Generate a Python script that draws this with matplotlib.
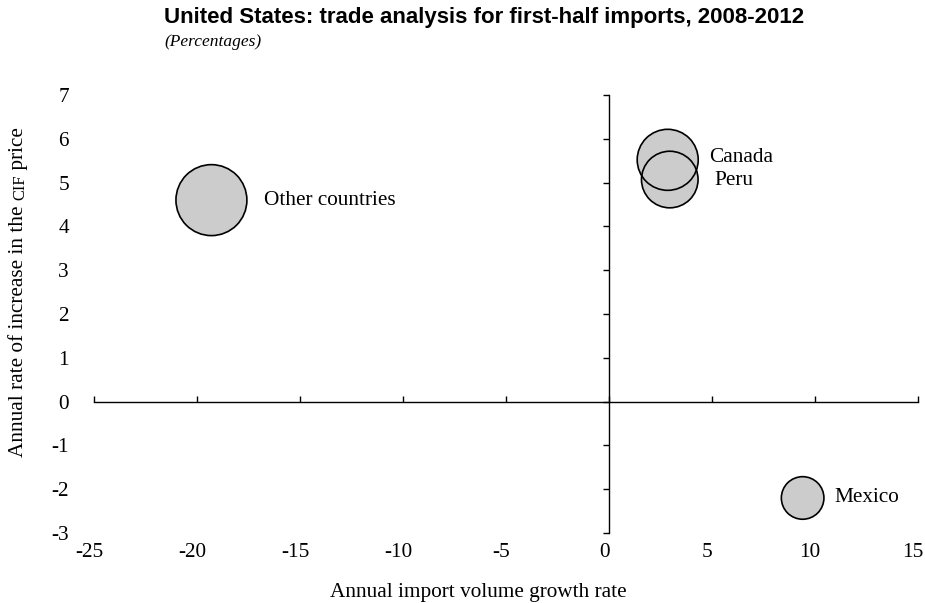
import matplotlib
matplotlib.use("Agg")
import matplotlib.pyplot as plt
import matplotlib.transforms as mtransforms

# ── data ─────────────────────────────────────────────
countries = ['Other countries', 'Canada', 'Peru', 'Mexico']
volume_growth = [-19.3, 2.85, 2.95, 9.4]      # x
price_increase = [4.6, 5.52, 5.07, -2.2]      # y
bubble_size = [2610, 1930, 1660, 940]         # marker area (pt^2)

x_ticks = [-25, -20, -15, -10, -5, 0, 5, 10, 15]
y_ticks = [-3, -2, -1, 0, 1, 2, 3, 4, 5, 6, 7]

# label offsets from bubble centre, in points
label_offsets = [(38, 0), (30, 2), (32, -1), (23, 0)]

serif = 'Liberation Serif'
fs = 15.3
plt.rcParams['axes.unicode_minus'] = False

# ── figure ───────────────────────────────────────────
fig = plt.figure(figsize=(9.25, 6.03), dpi=100)
ax = fig.add_axes([94/925, 1-533/603, (918-94)/925, (533-95)/603])
ax.set_xlim(-25, 15)
ax.set_ylim(-3, 7)

# axes crossing at zero
for s in ['top', 'right']:
    ax.spines[s].set_visible(False)
ax.spines['left'].set_position(('data', 0))
ax.spines['bottom'].set_position(('data', 0))
ax.spines['left'].set_linewidth(1.0)
ax.spines['bottom'].set_linewidth(1.0)
ax.set_xticks(x_ticks)
ax.set_yticks(y_ticks)
ax.tick_params(axis='x', direction='in', length=4, width=1, labelbottom=False)
ax.tick_params(axis='y', direction='out', length=4, width=1, labelleft=False)

# tick labels along the outer edges
secx = ax.secondary_xaxis('bottom')
secx.set_xticks(x_ticks)
secx.spines['bottom'].set_visible(False)
secx.tick_params(length=0, pad=7, labelsize=fs)
secy = ax.secondary_yaxis('left')
secy.set_yticks(y_ticks)
secy.spines['left'].set_visible(False)
secy.tick_params(length=0, pad=18, labelsize=fs)
shift = mtransforms.ScaledTranslation(-5/100, 0, fig.dpi_scale_trans)
for lab in secx.get_xticklabels():
    lab.set_fontfamily(serif)
    lab.set_transform(lab.get_transform() + shift)
for lab in secy.get_yticklabels():
    lab.set_fontfamily(serif)

# bubbles: fills first, then outlines so overlaps show both rims
ax.scatter(volume_growth, price_increase, s=bubble_size, color='#cccccc',
           linewidths=0, zorder=3, clip_on=False)
ax.scatter(volume_growth, price_increase, s=bubble_size, facecolors='none',
           edgecolors='black', linewidths=1.2, zorder=4, clip_on=False)

for name, x, y, off in zip(countries, volume_growth, price_increase, label_offsets):
    ax.annotate(name, (x, y), xytext=off, textcoords='offset points',
                ha='left', va='center', fontsize=fs, family=serif)

# titles and axis labels
fig.text(164/925, 1-18/603, 'United States: trade analysis for first-half imports, 2008-2012',
         fontsize=16, fontweight='bold', family='Liberation Sans', va='center')
fig.text(164/925, 1-42/603, '(Percentages)', fontsize=12.5, style='italic',
         family=serif, va='center')
fig.text(478/925, 1-593/603, 'Annual import volume growth rate', fontsize=fs,
         family=serif, ha='center', va='center')

# y label with "CIF" in small capitals, built from pieces stacked upward
parts = [('Annual rate of increase in the ', fs), ('CIF', fs*0.78), (' price', fs)]
renderer = fig.canvas.get_renderer()
texts = []
for txt, size in parts:
    t = fig.text(28/925, 0.5, txt, fontsize=size, family=serif, rotation=90,
                 ha='right', va='bottom')
    texts.append(t)
lengths = [t.get_window_extent(renderer).height / fig.bbox.height for t in texts]
y0 = (1-292/603) - sum(lengths)/2
for t, L in zip(texts, lengths):
    t.set_position((28/925, y0))
    y0 += L

fig.savefig('out.png', dpi=100)
